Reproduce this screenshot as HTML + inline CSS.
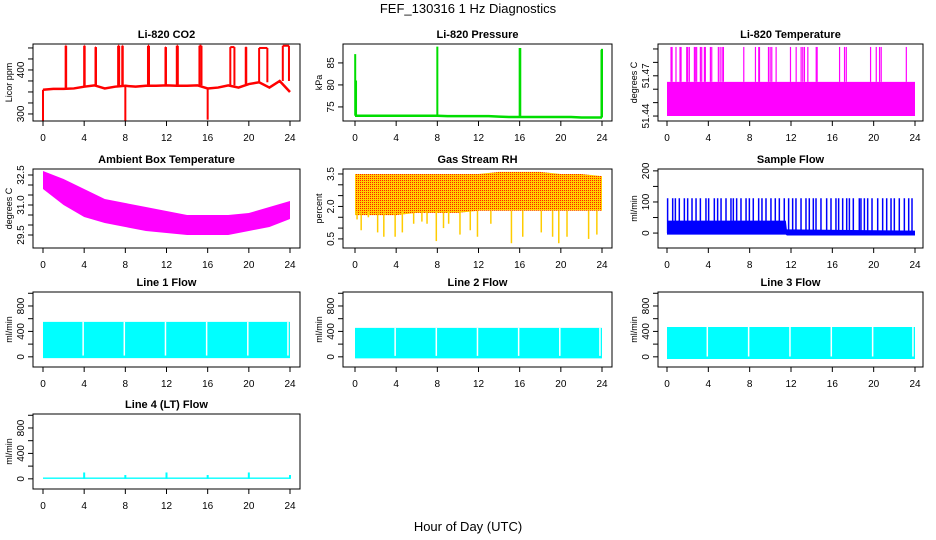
<!DOCTYPE html>
<html><head><meta charset="utf-8"><style>
html,body{margin:0;padding:0;background:#fff}
svg{display:block;font-family:"Liberation Sans",Arial,sans-serif}
</style></head><body>
<svg id="c" width="936" height="540" viewBox="0 0 936 540">
<defs><pattern id="rhpat" width="2" height="2" patternUnits="userSpaceOnUse"><rect width="2" height="2" fill="#ffd000"/><rect width="1" height="1" fill="#ff2000"/></pattern></defs>
<text x="468" y="13" text-anchor="middle" font-size="13">FEF_130316  1 Hz Diagnostics</text>
<text x="468" y="531" text-anchor="middle" font-size="13">Hour of Day (UTC)</text>
</svg>
<script>
// ---- data ----
const xTicks=[0,4,8,12,16,20,24];
const co2Base=[355,357,357,358,362,365,358,362,364,362,364,364,365,364,364,365,358,360,365,360,368,372,360,375,350];
const co2SpikeHours=[2.2,4.0,5.1,7.3,7.7,10.2,11.9,13.0,15.2,18.2,19.7,21.0,23.3];
const co2SpikeVals=[455,455,452,455,455,455,452,455,455,452,452,450,455];
const co2SpikeWidths=[0.05,0.05,0.05,0.1,0.05,0.1,0.05,0.1,0.2,0.4,0.05,0.8,0.6];
const co2DipHours=[0.0,8.0,16.0];
const co2DipVals=[285,285,287];
const pBase=[73.0,73.0,73.0,73.0,73.0,73.0,73.0,73.0,73.0,72.9,72.9,72.9,72.9,72.9,72.8,72.7,72.7,72.7,72.7,72.7,72.7,72.7,72.6,72.6,72.6];
const pSpikeHours=[0.02,0.1,8.0,16.0,16.06,23.95,24.0];
const pSpikeVals=[87,81,88.7,88.4,88.4,88,88.2];
const tBandLo=51.44, tBandHi=51.4655;
const tSpikeHours=[0.39,0.49,0.87,1.26,1.36,1.91,2.0,2.16,2.65,2.74,2.87,3.23,3.36,3.62,3.71,4.2,4.33,4.97,5.14,5.33,5.46,7.43,8.56,8.88,8.95,9.82,9.98,10.14,10.56,11.95,12.5,12.98,13.14,13.3,13.63,14.44,14.53,16.7,17.18,17.35,19.7,20.25,20.57,20.73,23.16];
const tSpikeVal=51.4915;
const ambHours=[0,2,4,6,8,10,12,14,16,18,20,22,24];
const ambHi=[32.7,32.3,31.8,31.3,31.1,30.9,30.7,30.5,30.5,30.5,30.6,30.9,31.2];
const ambLo=[31.8,31.0,30.4,30.1,29.9,29.7,29.6,29.5,29.5,29.5,29.7,29.9,30.3];
const rhHours=[0,2,4,6,8,10,12,14,16,18,20,22,24];
const rhHi=[3.5,3.5,3.5,3.5,3.5,3.5,3.5,3.6,3.6,3.6,3.5,3.5,3.4];
const rhLo=[1.6,1.6,1.6,1.7,1.7,1.7,1.8,1.8,1.8,1.8,1.8,1.8,1.8];
const rhDipHours=[0.2,0.6,1.3,2.2,2.8,3.9,4.6,5.7,6.5,7.0,7.9,8.6,9.1,10.2,11.2,11.9,13.2,15.2,16.3,18.1,19.2,19.8,20.6,22.7,23.5];
const rhDipVals=[1.4,0.9,1.5,0.8,0.6,0.6,0.8,1.2,1.3,1.2,0.4,1.0,1.2,0.7,0.9,0.6,1.2,0.3,0.6,0.8,0.6,0.3,0.6,0.5,0.7];
const sfHours=[0,11.5,11.6,24];
const sfHi=[40,40,12,8];
const sfLo=[-5,-5,-8,-8];
const sfSpikeHours=[0.06,0.55,0.81,1.19,1.68,2.0,2.42,2.81,3.23,3.77,4.03,4.58,4.9,5.23,5.71,6.19,6.42,6.74,7.16,7.65,7.97,8.35,8.87,9.19,9.58,10.06,10.48,10.87,11.35,11.77,12.16,12.48,12.97,13.45,13.77,14.16,14.42,14.9,15.45,15.87,16.35,16.61,17.0,17.39,17.65,18.03,18.61,18.77,19.1,19.42,19.84,20.39,20.87,21.26,21.68,22.0,22.48,22.97,23.39,23.71];
const sfSpikeVal=112;
const l1Hi=550, l1Lo=-20;
const l2Hi=455, l2Lo=-25;
const l3Hi=470, l3Lo=-35;
const l4Hi=20, l4Lo=0;
const flowGaps=[3.9,7.9,11.9,15.9,19.9,23.8];
const l4SpikeHours=[4,8,12,16,20,24];
const l4SpikeVals=[100,60,100,60,100,60];

// ---- layout ----
const NS='http://www.w3.org/2000/svg';
const svg=document.getElementById('c');
const cols=[{l:33,r:300,x0:43,x1:290},{l:343,r:612,x0:355,x1:602},{l:658,r:923,x0:667,x1:915}];
const rows=[{t:44,b:121},{t:169,b:248},{t:292,b:367},{t:414,b:489}];
function mk(tag,attrs,parent){const e=document.createElementNS(NS,tag);for(const k in attrs)e.setAttribute(k,attrs[k]);(parent||svg).appendChild(e);return e;}
function panel(name,ci,ri,title,ylab,ymin,ymax,yticks,ylabels){
  const c=cols[ci],r=rows[ri];
  const g=mk('g',{});
  
  
  const X=h=>c.x0+(c.x1-c.x0)*h/24;
  const Y=v=>r.b-(v-ymin)/(ymax-ymin)*(r.b-r.t);
  const plot=mk('g',{},g);
  
  
  const box=mk('rect',{x:c.l,y:r.t,width:c.r-c.l,height:r.b-r.t,fill:'none',stroke:'#000','stroke-width':1},g);
  
  
  const t=mk('text',{x:(c.l+c.r)/2,y:r.t-6,'text-anchor':'middle','font-size':11,'font-weight':'bold'},g);
  t.textContent=title;
  
  
  const xa=mk('g',{},g);
  
  
  xTicks.forEach(h=>{mk('line',{x1:X(h),x2:X(h),y1:r.b,y2:r.b+5,stroke:'#000'},xa);
    const tx=mk('text',{x:X(h),y:r.b+20,'text-anchor':'middle','font-size':10},xa);tx.textContent=h;});
  const ya=mk('g',{},g);
  
  
  yticks.forEach(v=>{mk('line',{x1:c.l-5,x2:c.l,y1:Y(v),y2:Y(v),stroke:'#000'},ya);});
  ylabels.forEach(v=>{const tx=mk('text',{x:0,y:0,'text-anchor':'middle','font-size':10,transform:`translate(${c.l-9},${Y(parseFloat(v))}) rotate(-90)`},ya);tx.textContent=v;});
  const yl=mk('text',{x:0,y:0,'text-anchor':'middle','font-size':9,transform:`translate(${c.l-21},${(r.t+r.b)/2}) rotate(-90)`},g);
  yl.textContent=ylab;
  
  
  return {X,Y,g:plot};
}
function bandPoly(p,hs,lo,hi,fill){
  let pts=hs.map((h,i)=>p.X(h)+','+p.Y(hi[i]));
  pts=pts.concat(hs.slice().reverse().map((h,i)=>p.X(h)+','+p.Y(lo[hs.length-1-i])));
  const e=mk('polygon',{points:pts.join(' '),fill:fill},p.g);
  
  
}
function vline(p,h,v0,v1,color,w){const e=mk('line',{x1:p.X(h),x2:p.X(h),y1:p.Y(v0),y2:p.Y(v1),stroke:color,'stroke-width':w},p.g);
  
  }

// CO2
let p=panel('co2',0,0,'Li-820 CO2','Licor ppm',284,459,[300,325,350,375,400,425,450],['300','400']);
const co2Pts=co2Base.map((v,i)=>p.X(i)+','+p.Y(v)).join(' ');
let e=mk('polyline',{points:co2Pts,fill:'none',stroke:'#ff0000','stroke-width':2.5},p.g);


co2SpikeHours.forEach((h,i)=>{const b=co2Base[Math.round(h)];vline(p,h,b,co2SpikeVals[i],'#ff0000',2);vline(p,h+co2SpikeWidths[i],b,co2SpikeVals[i],'#ff0000',2);
  const s=mk('line',{x1:p.X(h),x2:p.X(h+co2SpikeWidths[i]),y1:p.Y(co2SpikeVals[i]),y2:p.Y(co2SpikeVals[i]),stroke:'#ff0000','stroke-width':2},p.g);
  
  });
co2DipHours.forEach((h,i)=>vline(p,h,co2Base[Math.round(h)],co2DipVals[i],'#ff0000',2));

// Pressure
p=panel('pressure',1,0,'Li-820 Pressure','kPa',71.8,89.3,[75,80,85],['75','80','85']);
e=mk('polyline',{points:pBase.map((v,i)=>p.X(i)+','+p.Y(v)).join(' '),fill:'none',stroke:'#00dd00','stroke-width':2.5},p.g);


pSpikeHours.forEach((h,i)=>vline(p,h,pBase[Math.round(h)],pSpikeVals[i],'#00dd00',2));

// Temperature
p=panel('li820-temperature',2,0,'Li-820 Temperature','degrees C',51.4363,51.4937,[51.44,51.45,51.46,51.47,51.48,51.49],['51.44','51.47']);
bandPoly(p,[0,24],[tBandLo,tBandLo],[tBandHi,tBandHi],'#ff00ff');
tSpikeHours.forEach(h=>vline(p,h,tBandHi,tSpikeVal,'#ff00ff',1.2));

// Ambient
p=panel('ambient-temperature',0,1,'Ambient Box Temperature','degrees C',28.85,32.8,[29.5,30,30.5,31,31.5,32,32.5],['29.5','31.0','32.5']);
bandPoly(p,ambHours,ambLo,ambHi,'#ff00ff');

// RH
p=panel('gas-stream-rh',1,1,'Gas Stream RH','percent',0.08,3.73,[0.5,1,1.5,2,2.5,3,3.5],['0.5','2.0','3.5']);
bandPoly(p,rhHours,rhLo,rhHi,'url(#rhpat)');
rhDipHours.forEach((h,i)=>vline(p,h,1.8,rhDipVals[i],'#ffcc00',1.5));

// Sample flow
p=panel('sample-flow',2,1,'Sample Flow','ml/min',-48,206,[0,50,100,150,200],['0','100','200']);
bandPoly(p,sfHours,sfLo,sfHi,'#0000ff');
sfSpikeHours.forEach(h=>vline(p,h,0,sfSpikeVal,'#0000ff',1.5));

// Line flows
function flow(name,ci,ri,title,lo,hi){
  const q=panel(name,ci,ri,title,'ml/min',-160,1020,[0,200,400,600,800,1000],['0','400','800']);
  bandPoly(q,[0,24],[lo,lo],[hi,hi],'#00ffff');
  flowGaps.forEach(h=>{const w=mk('line',{x1:q.X(h),x2:q.X(h),y1:q.Y(hi),y2:q.Y(lo+40),stroke:'#fff','stroke-width':1.5},q.g);
    
    });
  return q;
}
flow('line1-flow',0,2,'Line 1 Flow',l1Lo,l1Hi);
flow('line2-flow',1,2,'Line 2 Flow',l2Lo,l2Hi);
flow('line3-flow',2,2,'Line 3 Flow',l3Lo,l3Hi);
p=panel('line4-flow',0,3,'Line 4 (LT) Flow','ml/min',-160,1020,[0,200,400,600,800,1000],['0','400','800']);
bandPoly(p,[0,24],[l4Lo,l4Lo],[l4Hi,l4Hi],'#00ffff');
l4SpikeHours.forEach((h,i)=>vline(p,h,0,l4SpikeVals[i],'#00ffff',2));
</script>
</body></html>
